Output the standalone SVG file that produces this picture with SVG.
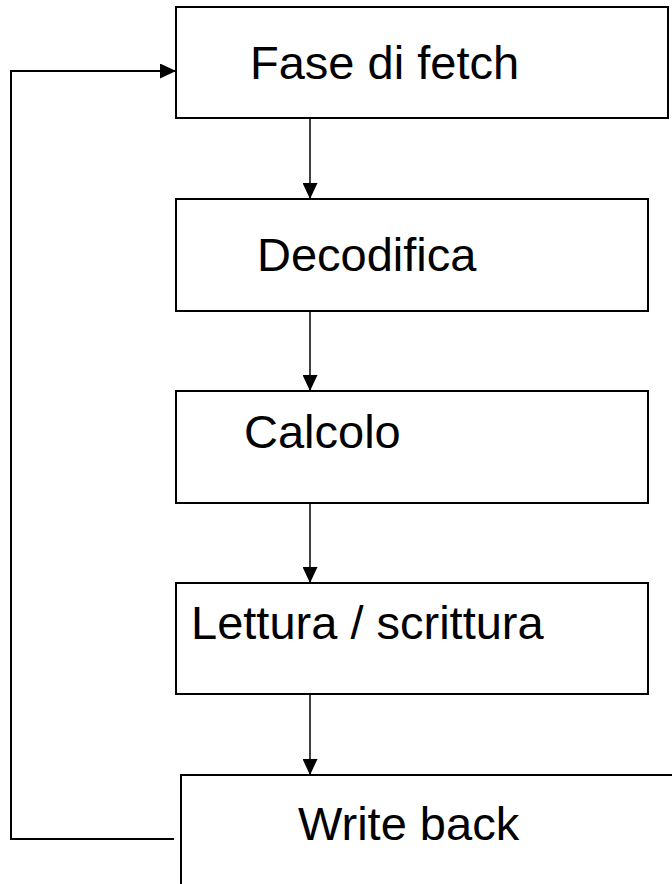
<svg xmlns="http://www.w3.org/2000/svg" width="672" height="884" viewBox="0 0 672 884">
<style>
.box{fill:#fff;stroke:#000;stroke-width:2}
.lbl{font-family:"Liberation Sans",Arial,sans-serif;font-size:47px;fill:#000}
.arr{fill:none;stroke:#000;stroke-width:1.5}
.fb{fill:none;stroke:#000;stroke-width:2}
</style>
<defs>
<marker id="ah" viewBox="0 0 16 15" refX="16" refY="7.5" markerWidth="16" markerHeight="15" markerUnits="userSpaceOnUse" orient="auto">
<path d="M0,0 L16,7.5 L0,15 Z" fill="#000"/>
</marker>
</defs>
<rect width="672" height="884" fill="#fff"/>
<g id="connectors">
<line class="arr" x1="310" y1="118" x2="310" y2="199" marker-end="url(#ah)"/>
<line class="arr" x1="310" y1="311" x2="310" y2="391" marker-end="url(#ah)"/>
<line class="arr" x1="310" y1="503" x2="310" y2="583" marker-end="url(#ah)"/>
<line class="arr" x1="310" y1="694" x2="310" y2="775" marker-end="url(#ah)"/>
<path class="fb" d="M174,839 H11 V71 H176" marker-end="url(#ah)"/>
</g>
<g id="fetch">
<rect class="box" x="176" y="7" width="492" height="111"/>
<text class="lbl" x="250" y="79">Fase di fetch</text>
</g>
<g id="decodifica">
<rect class="box" x="176" y="199" width="472" height="112"/>
<text class="lbl" x="257" y="271">Decodifica</text>
</g>
<g id="calcolo">
<rect class="box" x="176" y="391" width="472" height="112"/>
<text class="lbl" x="244" y="448">Calcolo</text>
</g>
<g id="lettura">
<rect class="box" x="176" y="583" width="472" height="111"/>
<text class="lbl" x="191" y="639">Lettura / scrittura</text>
</g>
<g id="writeback">
<rect class="box" x="181" y="775" width="600" height="200"/>
<text class="lbl" x="298" y="840">Write back</text>
</g>
</svg>
